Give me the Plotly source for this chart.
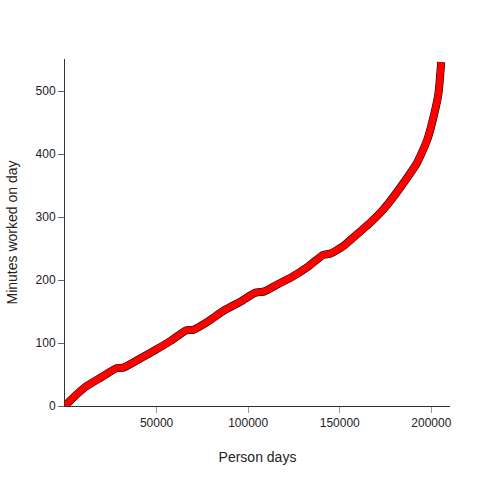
import plotly.graph_objects as go

# sorted minutes worked per person day
person_days = [0, 3000, 11000, 20000, 28000, 32000, 42000, 50000, 58000, 66000, 70000,
               78000, 87000, 96000, 104000, 109000, 116000, 124000, 133000, 141000, 145000,
               152000, 158000, 167000, 173500, 178000, 186000, 192000, 197700, 201200,
               203900, 205400]
minutes = [0, 9, 30, 46, 60, 61, 77, 90, 104, 120, 121,
           134, 152, 166, 180, 182, 193, 205, 222, 240, 242,
           254, 269, 292, 311, 327, 359, 385, 422, 459,
           496, 546]

x_ticks = [50000, 100000, 150000, 200000]
y_ticks = [0, 100, 200, 300, 400, 500]

fig = go.Figure()
# black underlay, red on top
fig.add_trace(go.Scatter(x=person_days, y=minutes, mode='lines',
                         line=dict(color='black', width=8, shape='spline', smoothing=0.5),
                         hoverinfo='skip'))
fig.add_trace(go.Scatter(x=person_days, y=minutes, mode='lines',
                         line=dict(color='red', width=7, shape='spline', smoothing=0.5)))

axis_font = dict(family='Liberation Sans, Arial, sans-serif', size=12, color='#222222')

fig.update_layout(
    width=480, height=480,
    margin=dict(l=59, r=30, t=59, b=74),
    paper_bgcolor='white', plot_bgcolor='white',
    showlegend=False,
    font=axis_font,
    xaxis=dict(range=[0, 210200], tickvals=x_ticks, ticktext=[str(v) for v in x_ticks],
               showgrid=False, zeroline=False, showline=True, linecolor='#333333', linewidth=1,
               ticks='outside', ticklen=6, tickcolor='#999999', tickwidth=1,
               title=dict(text='Person days', standoff=22)),
    yaxis=dict(range=[0, 551], tickvals=y_ticks, ticktext=[str(v) for v in y_ticks],
               showgrid=False, zeroline=False, showline=True, linecolor='#333333', linewidth=1,
               ticks='outside', ticklen=6, tickcolor='#666666', tickwidth=1,
               title=dict(text='Minutes worked on day', standoff=14)),
)

# drop the browser's default body margin so the figure sits at the top-left corner
fig.write_html('out.html', config={'displayModeBar': False},
               post_script="document.body.style.margin='0';")
